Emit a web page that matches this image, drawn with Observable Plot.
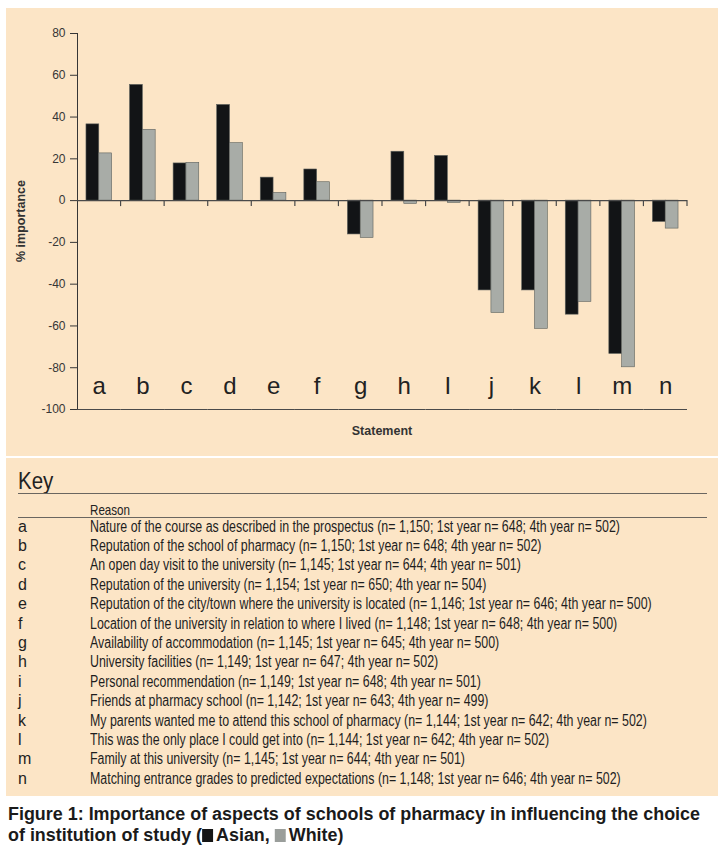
<!DOCTYPE html>
<html>
<head>
<meta charset="utf-8">
<script src="https://cdn.jsdelivr.net/npm/d3@7"></script>
<script src="https://cdn.jsdelivr.net/npm/@observablehq/plot@0.6"></script>
<style>
  html, body { margin: 0; padding: 0; background: #ffffff; }
  body { width: 728px; height: 860px; position: relative; overflow: hidden;
         font-family: "Liberation Sans", Arial, Helvetica, sans-serif; }
  #chartPanel { position: absolute; left: 6px; top: 8px; width: 712px; height: 448px; background: #fce5c6; }
  #keyPanel { position: absolute; left: 6px; top: 458px; width: 712px; height: 338px; background: #fce5c6; }
  .fit { display: inline-block; white-space: nowrap; transform-origin: 0 50%; }
  #keyTitle { position: absolute; left: 12px; top: 10px; font-size: 23px; line-height: 26px; color: #222;
              font-family: "Liberation Sans Narrow", "Liberation Sans", Arial, sans-serif; }
  .hline { position: absolute; left: 12px; width: 689px; height: 0; border-top: 1.6px solid #6a6660; }
  #reasonHead { position: absolute; left: 84px; top: 43px; font-size: 15px; line-height: 18px; color: #222;
                font-family: "Liberation Sans Narrow", "Liberation Sans", Arial, sans-serif; }
  .row { position: absolute; left: 0; height: 19.4px; line-height: 19.4px; font-size: 16px; color: #1e1e1e;
         font-family: "Liberation Sans Narrow", "Liberation Sans", Arial, sans-serif; }
  .row .letter { position: absolute; left: 12px; top: 0; font-size: 16px; }
  .row .reason { position: absolute; left: 84px; top: 0; }
  #caption { position: absolute; left: 8px; top: 804px; font-weight: bold; font-size: 18px; line-height: 21px; color: #1a1a1a; }
  .sq { display: inline-block; width: 11px; height: 13px; vertical-align: -1px; margin-right: 3px; }
</style>
</head>
<body>
<div id="chartPanel"></div>
<div id="keyPanel">
  <div id="keyTitle"><span class="fit" id="keyWord">Key</span></div>
  <div class="hline" style="top:35px"></div>
  <div id="reasonHead"><span class="fit" id="reasonWord">Reason</span></div>
  <div class="hline" style="top:59px"></div>
  <div id="rows"></div>
</div>
<div id="caption">
  <div><span class="fit" id="cap1">Figure 1: Importance of aspects of schools of pharmacy in influencing the choice</span></div>
  <div><span class="fit" id="cap2">of institution of study (<span class="sq" style="background:#161616"></span>Asian, <span class="sq" style="background:#9a9e9b"></span>White)</span></div>
</div>
<script>
// ---------------- data ----------------
const categories = ["a","b","c","d","e","f","g","h","i","j","k","l","m","n"];
const categoryLabels = ["a","b","c","d","e","f","g","h","I","j","k","l","m","n"];
const seriesNames = ["Asian", "White"];
const asianValues = [36.5, 55.4, 17.8, 45.8, 11.0, 14.9, -16.2, 23.4, 21.4, -43.0, -43.0, -54.6, -73.4, -10.2];
const whiteValues = [22.6, 33.9, 18.1, 27.5, 3.7, 8.8, -17.9, -1.6, -1.1, -53.8, -61.4, -48.5, -79.8, -13.4];
const yTicks = [80, 60, 40, 20, 0, -20, -40, -60, -80, -100];
const yLabel = "% importance";
const xLabel = "Statement";
const reasons = [
  "Nature of the course as described in the prospectus (n= 1,150; 1st year n= 648; 4th year n= 502)",
  "Reputation of the school of pharmacy (n= 1,150; 1st year n= 648; 4th year n= 502)",
  "An open day visit to the university (n= 1,145; 1st year n= 644; 4th year n= 501)",
  "Reputation of the university (n= 1,154; 1st year n= 650; 4th year n= 504)",
  "Reputation of the city/town where the university is located  (n= 1,146; 1st year n= 646; 4th year n= 500)",
  "Location of the university in relation to where I lived (n= 1,148; 1st year n= 648; 4th year n= 500)",
  "Availability of accommodation (n= 1,145; 1st year n= 645; 4th year n= 500)",
  "University facilities (n= 1,149; 1st year n= 647; 4th year n= 502)",
  "Personal recommendation (n= 1,149; 1st year n= 648; 4th year n= 501)",
  "Friends at pharmacy school (n= 1,142; 1st year n= 643; 4th year n= 499)",
  "My parents wanted me to attend this school of pharmacy (n= 1,144; 1st year n= 642; 4th year n= 502)",
  "This was the only place I could get into (n= 1,144; 1st year n= 642; 4th year n= 502)",
  "Family at this university (n= 1,145; 1st year n= 644; 4th year n= 501)",
  "Matching entrance grades to predicted expectations (n= 1,148; 1st year n= 646; 4th year n= 502)"
];

const rows = categories.flatMap((c, i) => [
  {cat: c, series: "Asian", value: asianValues[i]},
  {cat: c, series: "White", value: whiteValues[i]}
]);
const labelOf = Object.fromEntries(categories.map((c, i) => [c, categoryLabels[i]]));

// ---------------- chart ----------------
const W = 712, H = 448;
const chart = Plot.plot({
  width: W, height: H,
  marginLeft: 71, marginRight: 31, marginTop: 25, marginBottom: 47,
  style: {background: "transparent", fontFamily: "Liberation Sans, Arial, sans-serif", fontSize: "12px", color: "#363636", overflow: "visible"},
  facet: {data: rows, x: "cat", marginLeft: 71, marginRight: 31},
  fx: {domain: categories, paddingInner: 0, paddingOuter: 0, round: false, axis: null, label: null},
  x: {domain: seriesNames, paddingInner: 0, paddingOuter: 0.7, round: false, axis: null},
  y: {domain: [-100, 80], ticks: yTicks, tickFormat: d => String(d), tickSize: 7, tickPadding: 5, line: true, label: null},
  color: {domain: seriesNames, range: ["#121416", "#a8aca7"]},
  marks: [
    Plot.barY(rows, {x: "series", y: "value", fill: "series", stroke: "#5e625e", strokeWidth: 0.6}),
    Plot.ruleY([0], {stroke: "#4a4a4a", strokeWidth: 1.2}),
    Plot.ruleY([-100], {stroke: "#4a4a4a", strokeWidth: 1.2}),
    Plot.text(rows, {filter: d => d.series === "Asian", text: d => labelOf[d.cat], frameAnchor: "bottom",
                     lineAnchor: "bottom", dy: -16, fontSize: 24, fill: "#222", fontFamily: "Liberation Sans, Arial, sans-serif"})
  ]
});
document.getElementById("chartPanel").appendChild(chart);

// separator ticks between statements and axis titles, placed with the plot's own scales
(function () {
  const svg = d3.select(chart.tagName.toLowerCase() === "svg" ? chart : chart.querySelector("svg"));
  const fx = chart.scale("fx");
  const y = chart.scale("y");
  const yScale = d3.scaleLinear().domain(y.domain).range(y.range);
  const x0 = Math.min(...fx.range), x1 = Math.max(...fx.range);
  const step = (x1 - x0) / fx.domain.length;
  const zeroY = yScale(0);
  svg.append("g").attr("stroke", "#4a4a4a").attr("stroke-width", 1.2)
    .selectAll("line").data(fx.domain).join("line")
    .attr("x1", (d, i) => x0 + (i + 1) * step).attr("x2", (d, i) => x0 + (i + 1) * step)
    .attr("y1", zeroY).attr("y2", zeroY + 6);
  const yTop = yScale(80), yBot = yScale(-100);
  svg.append("text").text(yLabel)
    .attr("transform", `translate(16,${(yTop + yBot) / 2}) rotate(-90)`)
    .attr("text-anchor", "middle").attr("dominant-baseline", "middle")
    .attr("font-weight", "bold").attr("font-size", 12.5).attr("fill", "#333");
  svg.append("text").text(xLabel)
    .attr("x", (x0 + x1) / 2).attr("y", yBot + 23)
    .attr("text-anchor", "middle").attr("dominant-baseline", "middle")
    .attr("font-weight", "bold").attr("font-size", 12.5).attr("fill", "#333");
})();

// ---------------- key ----------------
const rowsDiv = document.getElementById("rows");
categories.forEach((c, i) => {
  const r = document.createElement("div");
  r.className = "row";
  r.style.top = (58.5 + i * 19.4) + "px";
  r.innerHTML = `<span class="letter">${c}</span><span class="reason"><span class="fit rtext"></span></span>`;
  r.querySelector(".rtext").textContent = reasons[i];
  rowsDiv.appendChild(r);
});
function fitTo(el, target) { const w = el.getBoundingClientRect().width; const k = target / w; el.style.transform = `scaleX(${k})`; return k; }
const texts = [...document.querySelectorAll(".rtext")];
const k = 530 / texts[0].getBoundingClientRect().width;
texts.forEach(t => t.style.transform = `scaleX(${k})`);
document.getElementById("keyWord").style.transform = `scaleX(${Math.min(1, k * 1.15)})`;
document.getElementById("reasonWord").style.transform = `scaleX(${k})`;
const kc = fitTo(document.getElementById("cap1"), 692);
document.getElementById("cap2").style.transform = `scaleX(${kc})`;
</script>
</body>
</html>
